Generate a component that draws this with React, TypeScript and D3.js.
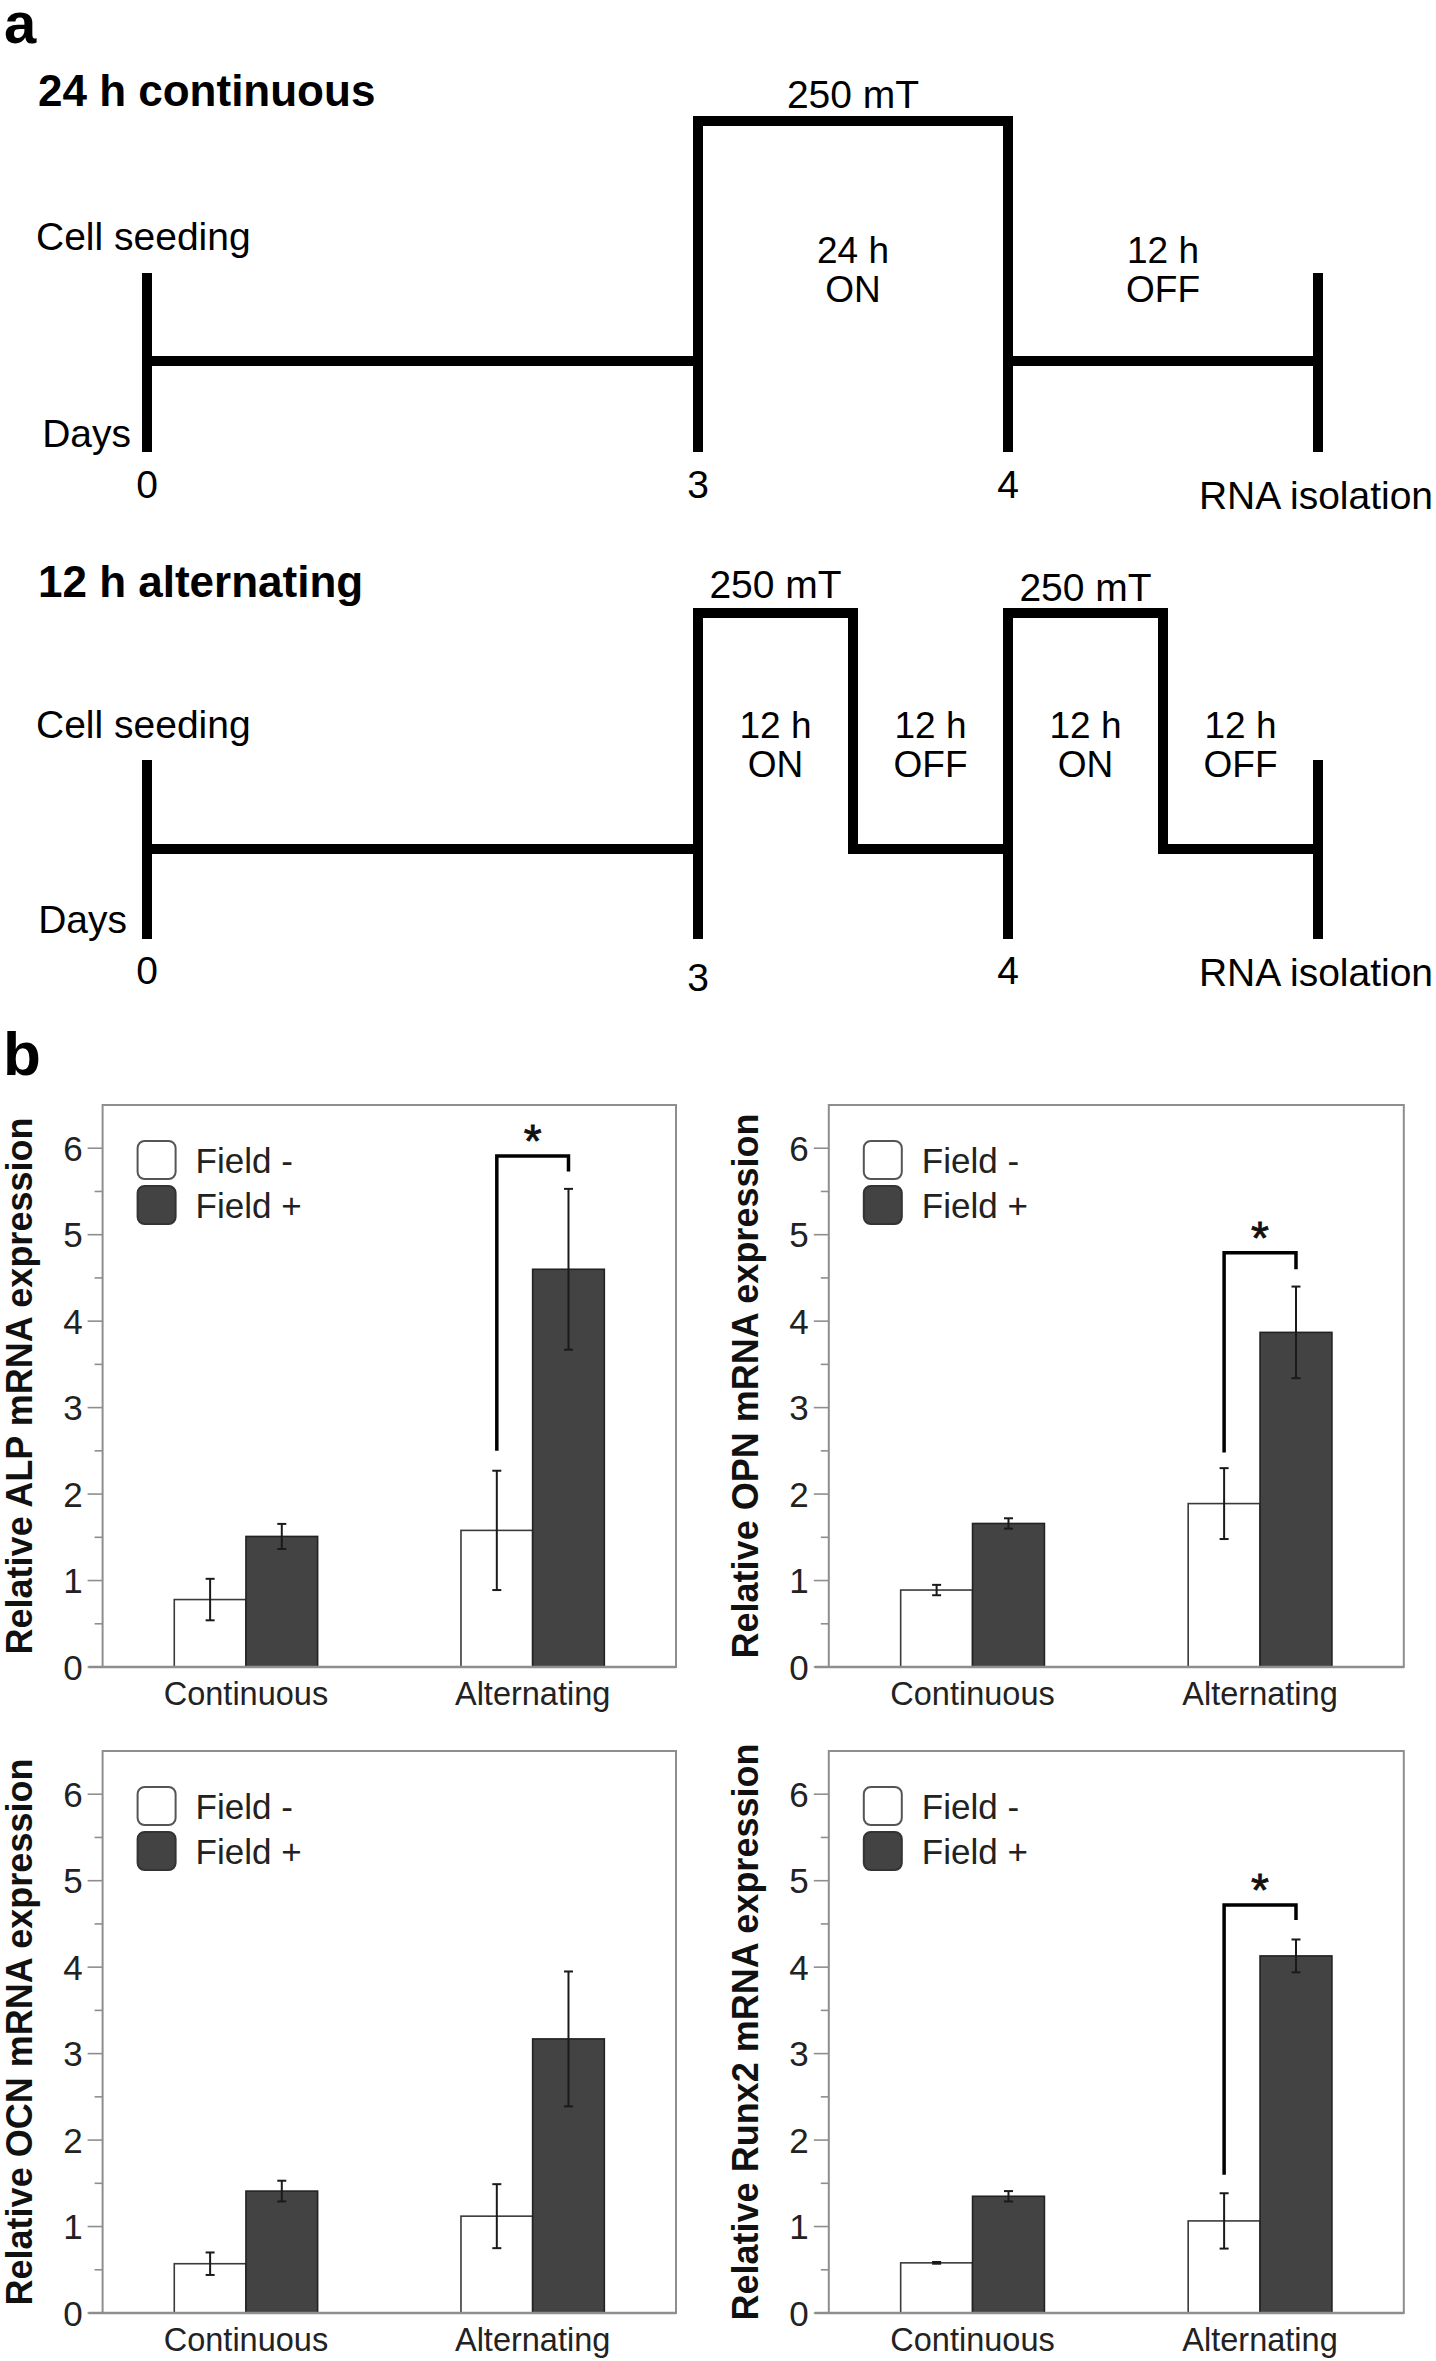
import React from "react";
import * as d3 from "d3";

const W = 1436;
const H = 2361;
const FONT = "'Liberation Sans', Arial, Helvetica, sans-serif";

// ---------- Panel a: timeline data ----------
const hourBreaks = [0, 72, 120];
const dayTicks = [
  { hour: 0, label: "0" },
  { hour: 72, label: "3" },
  { hour: 96, label: "4" },
];
const endHour = 120;
const fieldStrength = "250 mT";
const continuousPhases = [
  { from: 72, to: 96, on: true, hours: "24 h", state: "ON" },
  { from: 96, to: 120, on: false, hours: "12 h", state: "OFF" },
];
const alternatingPhases = [
  { from: 72, to: 84, on: true, hours: "12 h", state: "ON" },
  { from: 84, to: 96, on: false, hours: "12 h", state: "OFF" },
  { from: 96, to: 108, on: true, hours: "12 h", state: "ON" },
  { from: 108, to: 120, on: false, hours: "12 h", state: "OFF" },
];

// ---------- Panel b: bar chart data ----------
const categories = ["Continuous", "Alternating"];
const seriesNames = ["Field -", "Field +"];
const yTicks = [0, 1, 2, 3, 4, 5, 6];
const yMinorTicks = [0.5, 1.5, 2.5, 3.5, 4.5, 5.5];

const alpFieldMinus = [0.78, 1.58];
const alpFieldMinusErr = [0.24, 0.69];
const alpFieldPlus = [1.51, 4.6];
const alpFieldPlusErr = [0.145, 0.93];

const opnFieldMinus = [0.89, 1.89];
const opnFieldMinusErr = [0.06, 0.41];
const opnFieldPlus = [1.66, 3.87];
const opnFieldPlusErr = [0.06, 0.53];

const ocnFieldMinus = [0.57, 1.12];
const ocnFieldMinusErr = [0.13, 0.37];
const ocnFieldPlus = [1.41, 3.17];
const ocnFieldPlusErr = [0.12, 0.78];

const runx2FieldMinus = [0.58, 1.065];
const runx2FieldMinusErr = [0.01, 0.32];
const runx2FieldPlus = [1.35, 4.13];
const runx2FieldPlusErr = [0.06, 0.19];

const alpSignificance = { category: "Alternating", legStart: 2.5, level: 5.91, legEnd: 5.73, mark: "*" };
const opnSignificance = { category: "Alternating", legStart: 2.48, level: 4.79, legEnd: 4.6, mark: "*" };
const runx2Significance = { category: "Alternating", legStart: 1.6, level: 4.72, legEnd: 4.545, mark: "*" };

type Phase = { from: number; to: number; on: boolean; hours: string; state: string };

type TLCfg = {
  title: string;
  titleY: number;
  offY: number;
  onY: number;
  barTop: number;
  barBottom: number;
  cellY: number;
  daysY: number;
  daysRight: number;
  dayLabelY: number[];
  rnaY: number;
  phaseY1: number;
  phaseY2: number;
  mTY: number[];
};

function Timeline({ cfg, phases }: { cfg: TLCfg; phases: Phase[] }) {
  const x = d3.scaleLinear().domain(hourBreaks).range([147, 698, 1318]);
  const pts: [number, number][] = [[x(0), cfg.offY]];
  let prev = cfg.offY;
  phases.forEach((p) => {
    const lvl = p.on ? cfg.onY : cfg.offY;
    pts.push([x(p.from), prev]);
    pts.push([x(p.from), lvl]);
    pts.push([x(p.to), lvl]);
    prev = lvl;
  });
  const line = d3.line();
  const onPhases = phases.filter((p) => p.on);
  return (
    <g>
      <text x={38} y={cfg.titleY} fontSize={44} fontWeight="bold">
        {cfg.title}
      </text>
      <text x={36} y={cfg.cellY} fontSize={39}>
        Cell seeding
      </text>
      <text x={cfg.daysRight} y={cfg.daysY} fontSize={39} textAnchor="end">
        Days
      </text>
      <path d={line(pts) || ""} fill="none" stroke="#000" strokeWidth={10} strokeLinejoin="miter" />
      <line x1={x(0)} x2={x(0)} y1={cfg.barTop} y2={cfg.barBottom} stroke="#000" strokeWidth={10} />
      <line x1={x(endHour)} x2={x(endHour)} y1={cfg.barTop} y2={cfg.barBottom} stroke="#000" strokeWidth={10} />
      {dayTicks
        .filter((d) => d.hour > 0)
        .map((d) => (
          <line key={d.label} x1={x(d.hour)} x2={x(d.hour)} y1={cfg.offY} y2={cfg.barBottom} stroke="#000" strokeWidth={10} />
        ))}
      {dayTicks.map((d, i) => (
        <text key={d.label} x={x(d.hour)} y={cfg.dayLabelY[i]} fontSize={39} textAnchor="middle">
          {d.label}
        </text>
      ))}
      <text x={x(endHour) - 2} y={cfg.rnaY} fontSize={39} textAnchor="middle">
        RNA isolation
      </text>
      {phases.map((p, i) => {
        const cx = (x(p.from) + x(p.to)) / 2;
        return (
          <g key={i}>
            <text x={cx} y={cfg.phaseY1} fontSize={37} textAnchor="middle">
              {p.hours}
            </text>
            <text x={cx} y={cfg.phaseY2} fontSize={37} textAnchor="middle">
              {p.state}
            </text>
          </g>
        );
      })}
      {onPhases.map((p, i) => (
        <text key={i} x={(x(p.from) + x(p.to)) / 2} y={cfg.mTY[i]} fontSize={39} textAnchor="middle">
          {fieldStrength}
        </text>
      ))}
    </g>
  );
}

type Frame = { x0: number; x1: number; y0: number; y1: number };
type Sig = { category: string; legStart: number; level: number; legEnd: number; mark: string } | null;

const AXIS_GREY = "#8e8e8e";

function BarChart({
  frame,
  gene,
  minus,
  minusErr,
  plus,
  plusErr,
  sig,
}: {
  frame: Frame;
  gene: string;
  minus: number[];
  minusErr: number[];
  plus: number[];
  plusErr: number[];
  sig: Sig;
}) {
  const { x0, x1, y0, y1 } = frame;
  const y = d3.scaleLinear().domain([0, 6.5]).range([y1, y0]);
  const xb = d3.scaleBand().domain(categories).range([x0, x1]).padding(0);
  const bw = xb.bandwidth();
  const xs = d3.scaleBand().domain(seriesNames).range([bw * 0.25, bw * 0.75]).padding(0);
  const sw = xs.bandwidth();
  const values = [minus, plus];
  const errs = [minusErr, plusErr];
  const fills = ["#ffffff", "#434343"];
  const strokes = ["#3a3a3a", "#222222"];

  return (
    <g>
      {/* y title */}
      <text
        transform={`translate(${x0 - 71},${(y0 + y1) / 2}) rotate(-90)`}
        textAnchor="middle"
        fontSize={36}
        fontWeight="bold"
        fill="#111"
      >
        {`Relative ${gene} mRNA expression`}
      </text>
      {/* bars */}
      {seriesNames.map((s, si) =>
        categories.map((c, ci) => {
          const bx = (xb(c) as number) + (xs(s) as number);
          const v = values[si][ci];
          return (
            <rect
              key={s + c}
              x={bx}
              y={y(v)}
              width={sw}
              height={y(0) - y(v)}
              fill={fills[si]}
              stroke={strokes[si]}
              strokeWidth={1.6}
            />
          );
        })
      )}
      {/* error bars */}
      {seriesNames.map((s, si) =>
        categories.map((c, ci) => {
          const cx = (xb(c) as number) + (xs(s) as number) + sw / 2;
          const v = values[si][ci];
          const e = errs[si][ci];
          const ya = y(v + e);
          const yb = y(v - e);
          return (
            <g key={"e" + s + c} stroke="#1a1a1a" strokeWidth={2}>
              <line x1={cx} x2={cx} y1={ya} y2={yb} />
              <line x1={cx - 4.5} x2={cx + 4.5} y1={ya} y2={ya} />
              <line x1={cx - 4.5} x2={cx + 4.5} y1={yb} y2={yb} />
            </g>
          );
        })
      )}
      {/* frame */}
      <rect x={x0} y={y0} width={x1 - x0} height={y1 - y0} fill="none" stroke={AXIS_GREY} strokeWidth={2} />
      <line x1={x0 - 14} x2={x1} y1={y1} y2={y1} stroke={AXIS_GREY} strokeWidth={2.5} />
      {yTicks.map((t) => (
        <g key={t}>
          <line x1={x0 - 15} x2={x0} y1={y(t)} y2={y(t)} stroke={AXIS_GREY} strokeWidth={1.6} />
          <text x={x0 - 20} y={y(t)} dy="0.36em" fontSize={35} textAnchor="end" fill="#222">
            {t}
          </text>
        </g>
      ))}
      {yMinorTicks.map((t) => (
        <line key={t} x1={x0 - 8} x2={x0} y1={y(t)} y2={y(t)} stroke={AXIS_GREY} strokeWidth={1.6} />
      ))}
      {categories.map((c) => (
        <text key={c} x={(xb(c) as number) + bw / 2} y={y1 + 38} fontSize={32.5} textAnchor="middle" fill="#222">
          {c}
        </text>
      ))}
      {/* legend */}
      {seriesNames.map((s, si) => (
        <g key={"lg" + s}>
          <rect
            x={x0 + 35}
            y={y0 + 36 + si * 45}
            width={38}
            height={38}
            rx={7}
            fill={fills[si]}
            stroke={si === 0 ? "#555" : "#333"}
            strokeWidth={2}
          />
          <text x={x0 + 93} y={y0 + 67.5 + si * 45} fontSize={35} fill="#222">
            {s}
          </text>
        </g>
      ))}
      {/* significance */}
      {sig &&
        (() => {
          const xw = (xb(sig.category) as number) + (xs(seriesNames[0]) as number) + sw / 2;
          const xd = (xb(sig.category) as number) + (xs(seriesNames[1]) as number) + sw / 2;
          const d = `M${xw},${y(sig.legStart)} V${y(sig.level)} H${xd} V${y(sig.legEnd)}`;
          return (
            <g>
              <path d={d} fill="none" stroke="#000" strokeWidth={3.5} strokeLinejoin="miter" />
              <text
                x={(xw + xd) / 2}
                y={y(sig.level + 0.3) + 27}
                fontSize={46}
                textAnchor="middle"
                fill="#111"
                stroke="#111"
                strokeWidth={0.8}
              >
                {sig.mark}
              </text>
            </g>
          );
        })()}
    </g>
  );
}

const topTL: TLCfg = {
  title: "24 h continuous",
  titleY: 106,
  offY: 361,
  onY: 121,
  barTop: 273,
  barBottom: 452,
  cellY: 250,
  daysY: 447,
  daysRight: 131,
  dayLabelY: [498, 498, 498],
  rnaY: 509,
  phaseY1: 263,
  phaseY2: 302,
  mTY: [108],
};

const bottomTL: TLCfg = {
  title: "12 h alternating",
  titleY: 597,
  offY: 849,
  onY: 613,
  barTop: 760,
  barBottom: 939,
  cellY: 738,
  daysY: 933,
  daysRight: 127,
  dayLabelY: [984, 991, 984],
  rnaY: 986,
  phaseY1: 738,
  phaseY2: 777,
  mTY: [598, 601],
};

export default function App() {
  const L = { x0: 102.6, x1: 676 };
  const R = { x0: 828.8, x1: 1403.8 };
  const T = { y0: 1105, y1: 1667 };
  const B = { y0: 1751, y1: 2313 };
  return (
    <svg
      width={W}
      height={H}
      viewBox={`0 0 ${W} ${H}`}
      style={{ position: "absolute", left: 0, top: 0, background: "#fff" }}
      fontFamily={FONT}
    >
      <rect width={W} height={H} fill="#fff" />
      <text x={4} y={43} fontSize={58} fontWeight="bold">
        a
      </text>
      <Timeline cfg={topTL} phases={continuousPhases} />
      <Timeline cfg={bottomTL} phases={alternatingPhases} />
      <text x={3} y={1075} fontSize={62} fontWeight="bold">
        b
      </text>
      <BarChart
        frame={{ ...L, ...T }}
        gene="ALP"
        minus={alpFieldMinus}
        minusErr={alpFieldMinusErr}
        plus={alpFieldPlus}
        plusErr={alpFieldPlusErr}
        sig={alpSignificance}
      />
      <BarChart
        frame={{ ...R, ...T }}
        gene="OPN"
        minus={opnFieldMinus}
        minusErr={opnFieldMinusErr}
        plus={opnFieldPlus}
        plusErr={opnFieldPlusErr}
        sig={opnSignificance}
      />
      <BarChart
        frame={{ ...L, ...B }}
        gene="OCN"
        minus={ocnFieldMinus}
        minusErr={ocnFieldMinusErr}
        plus={ocnFieldPlus}
        plusErr={ocnFieldPlusErr}
        sig={null}
      />
      <BarChart
        frame={{ ...R, ...B }}
        gene="Runx2"
        minus={runx2FieldMinus}
        minusErr={runx2FieldMinusErr}
        plus={runx2FieldPlus}
        plusErr={runx2FieldPlusErr}
        sig={runx2Significance}
      />
    </svg>
  );
}
